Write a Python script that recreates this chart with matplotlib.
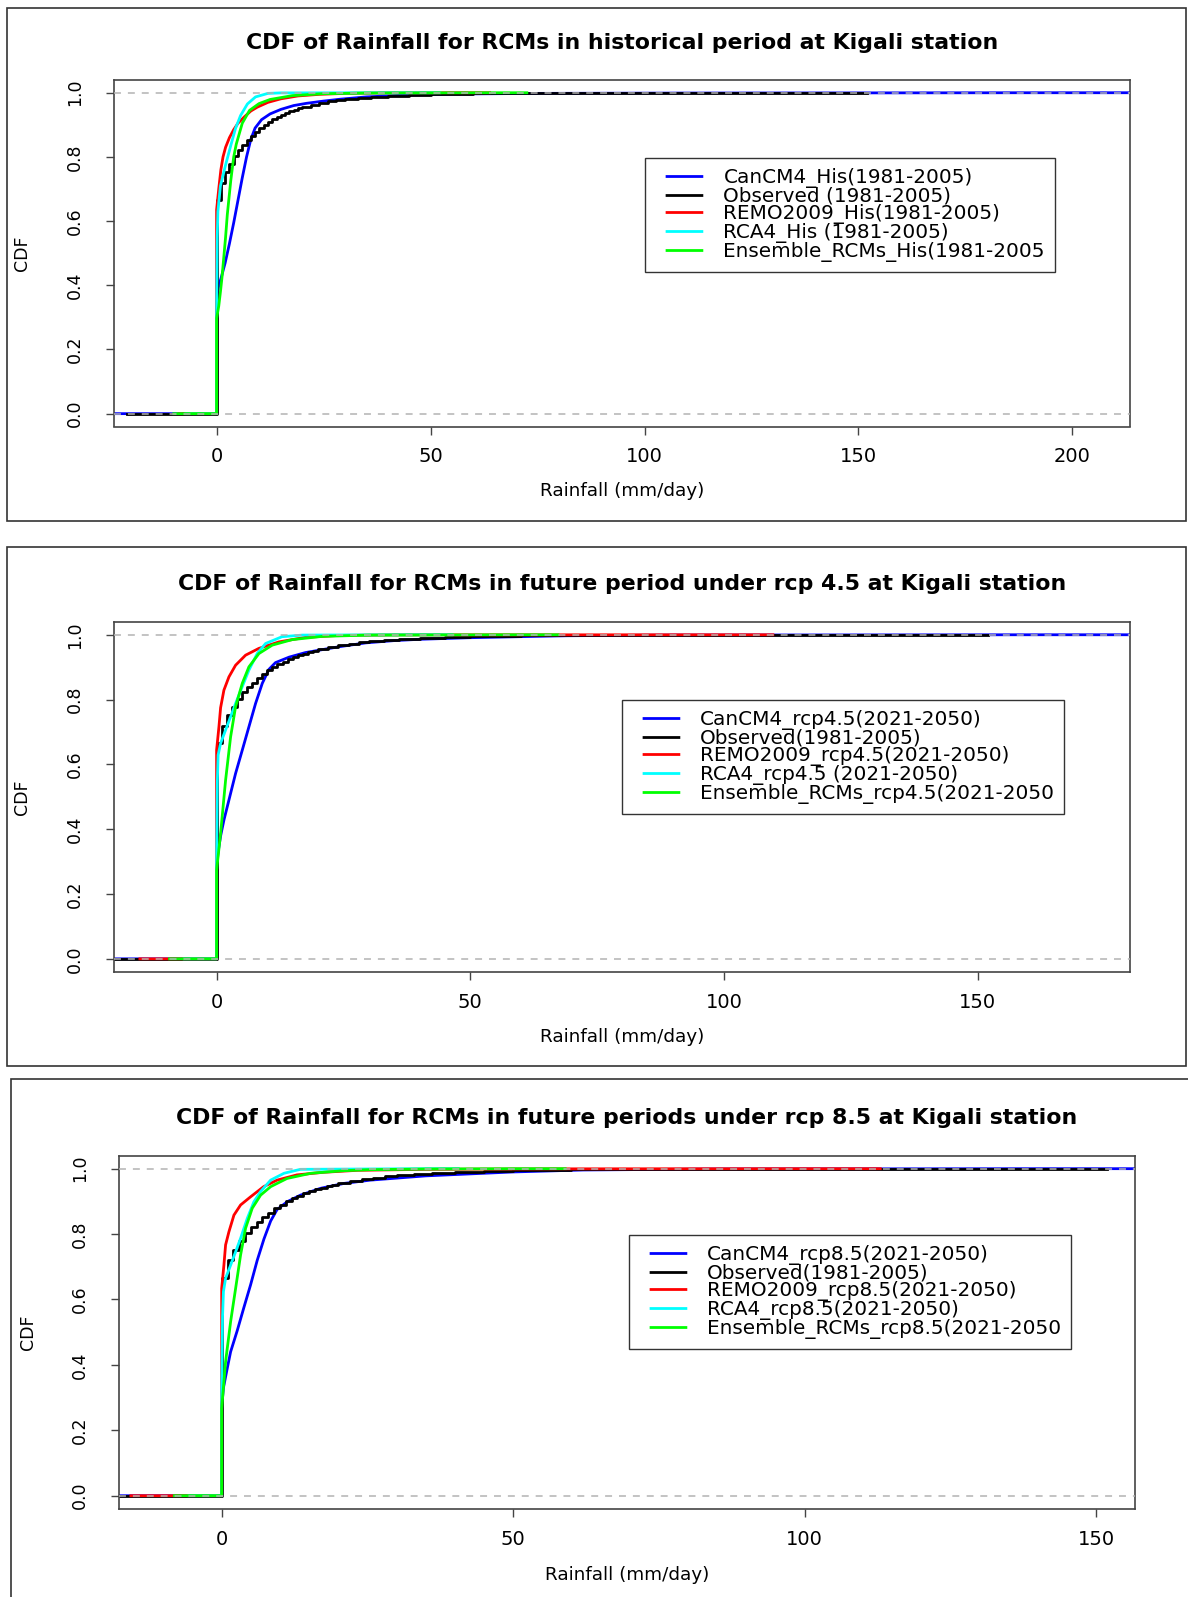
import matplotlib
matplotlib.use('Agg')
import matplotlib.pyplot as plt
from matplotlib.patches import Rectangle
from matplotlib.lines import Line2D

W, H = 1188, 1597

# ---- observed rainfall CDF (same in all panels, stepwise) ----
obs_x = [0, 1, 2, 3, 4, 5, 6, 7, 8, 9, 10, 11, 12, 13, 14, 15, 16, 17, 18, 19, 20,
         22, 24, 26, 28, 30, 33, 36, 40, 45, 50, 60, 75, 131]
obs_f = [0.665, 0.72, 0.752, 0.778, 0.803, 0.822, 0.838, 0.852, 0.866, 0.879, 0.89,
         0.90, 0.909, 0.917, 0.925, 0.931, 0.937, 0.942, 0.947, 0.951, 0.955,
         0.962, 0.968, 0.973, 0.977, 0.981, 0.985, 0.988, 0.991, 0.994, 0.996, 0.998, 0.999, 1.0]

# ---- historical period ----
his_can_x = [0, 0.2, 0.5, 1.0, 2.0, 3.0, 4.0, 5.0, 6.0, 7.0, 8.0, 9.0, 10.5, 12.5, 15, 18, 21,
             25, 29, 35, 43, 55, 75, 110, 189.5]
his_can_f = [0.30, 0.37, 0.40, 0.42, 0.47, 0.53, 0.595, 0.665, 0.735, 0.80, 0.855, 0.89, 0.916,
             0.934, 0.948, 0.96, 0.967, 0.974, 0.98, 0.987, 0.992, 0.996, 0.998, 0.999, 1.0]
his_remo_x = [0, 0.5, 1.0, 1.5, 2.1, 3.0, 4.0, 5.0, 6.5, 8, 9.5, 12, 15, 19, 24, 30, 40, 55]
his_remo_f = [0.635, 0.70, 0.76, 0.80, 0.83, 0.86, 0.885, 0.905, 0.925, 0.943, 0.955, 0.97,
              0.981, 0.99, 0.995, 0.998, 0.9995, 1.0]
his_rca_x = [0, 0.15, 0.3, 0.9, 2.1, 3.3, 4.4, 5.6, 7.2, 9.1, 12, 15, 45]
his_rca_f = [0.30, 0.55, 0.63, 0.71, 0.775, 0.835, 0.888, 0.929, 0.965, 0.987, 0.998, 0.9995, 1.0]
his_ens_x = [0, 0.5, 0.9, 1.3, 2.1, 2.5, 3.3, 4.0, 4.6, 6.0, 7.7, 9.9, 12.5, 17.7, 24.7, 35, 62.5]
his_ens_f = [0.297, 0.335, 0.38, 0.43, 0.55, 0.62, 0.725, 0.80, 0.84, 0.905, 0.945, 0.966,
             0.979, 0.991, 0.997, 0.999, 1.0]

# ---- rcp 4.5 ----
r45_can_x = [0, 0.3, 0.8, 1.44, 2.43, 3.74, 5.06, 6.37, 7.68, 9.0, 10.3, 11.6, 14.3, 17.5,
             24.1, 29.4, 35, 40, 50, 69, 89, 159.8]
r45_can_f = [0.28, 0.33, 0.38, 0.428, 0.49, 0.572, 0.644, 0.716, 0.788, 0.85, 0.893, 0.914,
             0.931, 0.945, 0.963, 0.975, 0.982, 0.986, 0.991, 0.997, 0.999, 1.0]
r45_remo_x = [0, 0.46, 0.79, 1.44, 2.43, 3.74, 5.71, 8.34, 12.3, 17.5, 24.1, 35, 94.5]
r45_remo_f = [0.644, 0.716, 0.775, 0.829, 0.87, 0.906, 0.937, 0.958, 0.978, 0.992, 0.998,
              0.9995, 1.0]
r45_rca_x = [0, 0.15, 0.3, 0.79, 1.77, 2.76, 3.74, 5.06, 6.37, 8.0, 9.65, 12.9, 16.9, 40]
r45_rca_f = [0.30, 0.55, 0.629, 0.665, 0.706, 0.747, 0.788, 0.84, 0.891, 0.942, 0.973, 0.994,
             0.999, 1.0]
r45_ens_x = [0, 0.79, 1.77, 2.76, 3.74, 5.06, 6.37, 8.34, 10.97, 14.9, 20.8, 30, 58]
r45_ens_f = [0.274, 0.387, 0.551, 0.685, 0.778, 0.85, 0.901, 0.942, 0.968, 0.985, 0.995,
             0.999, 1.0]

# ---- rcp 8.5 ----
r85_can_x = [0, 0.3, 0.96, 1.53, 2.67, 3.8, 4.96, 6.1, 7.25, 8.4, 9.5, 11.25, 13.5, 16.97,
             21, 25.5, 35, 50, 62, 84, 139.1]
r85_can_f = [0.27, 0.33, 0.39, 0.44, 0.505, 0.575, 0.645, 0.72, 0.785, 0.84, 0.875, 0.899,
             0.919, 0.94, 0.955, 0.965, 0.978, 0.99, 0.996, 0.999, 1.0]
r85_remo_x = [0, 0.38, 0.67, 1.24, 2.1, 3.24, 4.96, 7.2, 9.5, 12.9, 17.5, 23.3, 35, 60, 97.4]
r85_remo_f = [0.634, 0.705, 0.767, 0.807, 0.858, 0.889, 0.914, 0.945, 0.965, 0.981, 0.989,
              0.995, 0.998, 0.9995, 1.0]
r85_rca_x = [0, 0.15, 0.3, 0.67, 1.53, 2.39, 3.24, 4.39, 5.53, 6.67, 8.4, 10.7, 13.5, 35]
r85_rca_f = [0.30, 0.55, 0.624, 0.665, 0.705, 0.746, 0.787, 0.848, 0.899, 0.93, 0.965, 0.986,
             0.998, 1.0]
r85_ens_x = [0, 0.67, 1.53, 2.39, 3.24, 4.1, 5.24, 6.67, 8.4, 11.2, 15.3, 21, 25.5, 35, 50.8]
r85_ens_f = [0.267, 0.41, 0.532, 0.634, 0.736, 0.818, 0.879, 0.919, 0.945, 0.97, 0.986,
             0.994, 0.997, 0.999, 1.0]

titles = ["CDF of Rainfall for RCMs in historical period at Kigali station",
          "CDF of Rainfall for RCMs in future period under rcp 4.5 at Kigali station",
          "CDF of Rainfall for RCMs in future periods under rcp 8.5 at Kigali station"]
labels_his = ["CanCM4_His(1981-2005)", "Observed (1981-2005)", "REMO2009_His(1981-2005)",
              "RCA4_His (1981-2005)", "Ensemble_RCMs_His(1981-2005"]
labels_r45 = ["CanCM4_rcp4.5(2021-2050)", "Observed(1981-2005)", "REMO2009_rcp4.5(2021-2050)",
              "RCA4_rcp4.5 (2021-2050)", "Ensemble_RCMs_rcp4.5(2021-2050"]
labels_r85 = ["CanCM4_rcp8.5(2021-2050)", "Observed(1981-2005)", "REMO2009_rcp8.5(2021-2050)",
              "RCA4_rcp8.5(2021-2050)", "Ensemble_RCMs_rcp8.5(2021-2050"]
xticks_his = [0, 50, 100, 150, 200]
xticks_fut = [0, 50, 100, 150]
yticks = [0.0, 0.2, 0.4, 0.6, 0.8, 1.0]

colors = ['#0000FF', '#000000', '#FF0000', '#00FFFF', '#00FF00']

# layout in pixels: (left, right, top, bottom)
ax_px = [(114.1, 1130, 79.9, 426.5), (114.1, 1130, 621.8, 971.8), (119.2, 1135, 1155.6, 1508.8)]
frame_px = [(7.1, 1186, 8.2, 520.7), (7.1, 1186, 547, 1065.8), (11.2, 1195, 1079, 1605)]
legend_px = [(645, 157.9), (621.5, 700), (628.7, 1234.9)]
title_y = [42.8, 583.8, 1117.7]
xlab_y = [491, 1037.2, 1575.2]
ylab_x = [22.4, 22.4, 27.5]

plt.rcParams['font.family'] = 'DejaVu Sans'
plt.rcParams['lines.scale_dashes'] = False


def ends(xs):
    # R's plot.stepfun extends each ecdf by 2 * 8% of its range
    dr = 0.08 * (max(xs) - min(xs))
    return min(xs) - 2 * dr, max(xs) + 2 * dr


def r_xlim(xs):
    dr = 0.08 * (max(xs) - min(xs))
    lo, hi = min(xs) - dr, max(xs) + dr
    pad = 0.04 * (hi - lo)
    return lo - pad, hi + pad


def smooth(ax, xs, fs, color):
    lo, hi = ends(xs)
    ax.plot([lo, xs[0]] + xs + [hi], [0, 0] + fs + [1.0], color=color, lw=2)


def steps(ax, xs, fs, color):
    lo, hi = ends(xs)
    ax.plot([lo] + xs + [hi], [0] + fs + [1.0], color=color, lw=2, drawstyle='steps-post')


fig = plt.figure(figsize=(W / 100, H / 100), dpi=100)

panels = [
    (his_can_x, his_can_f, his_remo_x, his_remo_f, his_rca_x, his_rca_f, his_ens_x, his_ens_f,
     labels_his, xticks_his),
    (r45_can_x, r45_can_f, r45_remo_x, r45_remo_f, r45_rca_x, r45_rca_f, r45_ens_x, r45_ens_f,
     labels_r45, xticks_fut),
    (r85_can_x, r85_can_f, r85_remo_x, r85_remo_f, r85_rca_x, r85_rca_f, r85_ens_x, r85_ens_f,
     labels_r85, xticks_fut),
]

# legend keys: short line with blank lead-in (R style key placement)
leg_fs = 14.4
lead, key_len = 7.3, 27.1   # points
keys = [Line2D([], [], color=c, lw=2,
               ls=(key_len + 200 - lead, (key_len, 200))) for c in colors]

for i, (cx, cf, rx, rf, ax_, af, ex, ef, labels, xt) in enumerate(panels):
    fl, fr, ft, fb = frame_px[i]
    fig.patches.append(Rectangle((fl / W, 1 - fb / H), (fr - fl) / W, (fb - ft) / H,
                                 transform=fig.transFigure, fill=False,
                                 edgecolor='#333333', lw=1.2))
    l, r, t, b = ax_px[i]
    ax = fig.add_axes([l / W, 1 - b / H, (r - l) / W, (b - t) / H])

    smooth(ax, cx, cf, colors[0])
    steps(ax, obs_x, obs_f, colors[1])
    smooth(ax, rx, rf, colors[2])
    smooth(ax, ax_, af, colors[3])
    smooth(ax, ex, ef, colors[4])
    for h in (0, 1):
        ax.axhline(h, color='#B3B3B3', lw=1.1, ls=(0, (5, 5)), zorder=5)

    ax.set_xlim(*r_xlim(cx))
    ax.set_ylim(-0.04, 1.04)
    ax.set_xticks(xt)
    ax.set_yticks(yticks)
    ax.set_yticklabels(['%.1f' % v for v in yticks])
    ax.tick_params(axis='both', direction='out', length=5.5, width=1, color='#444444')
    ax.tick_params(axis='x', pad=9.5, labelsize=14)
    ax.tick_params(axis='y', pad=16, labelrotation=90, labelsize=12.5)
    for lab in ax.get_yticklabels():
        lab.set_va('center')
    for s in ax.spines.values():
        s.set_color('#444444')
        s.set_linewidth(1.2)

    ax.set_xlabel('Rainfall (mm/day)', fontsize=13.2)
    ax.xaxis.label.set_va('center')
    ax.xaxis.set_label_coords(0.5, (b - xlab_y[i]) / (b - t))
    ax.set_ylabel('CDF', fontsize=12.5)
    ax.yaxis.label.set_va('center')
    ax.yaxis.set_label_coords((ylab_x[i] - l) / (r - l), 0.5)

    fig.text((l + r) / 2 / W, 1 - title_y[i] / H, titles[i], ha='center', va='center',
             fontsize=15.8, fontweight='bold')

    lx, ly = legend_px[i]
    leg = ax.legend(keys, labels, loc='upper left', bbox_to_anchor=(lx / W, 1 - ly / H),
                    bbox_transform=fig.transFigure, borderaxespad=0, fancybox=False,
                    edgecolor='#333333', framealpha=1, fontsize=leg_fs, handlelength=2.4,
                    handletextpad=1.02, labelspacing=-0.065, borderpad=0.5)
    leg.get_frame().set_linewidth(1.0)

fig.savefig('out.png', dpi=100)
